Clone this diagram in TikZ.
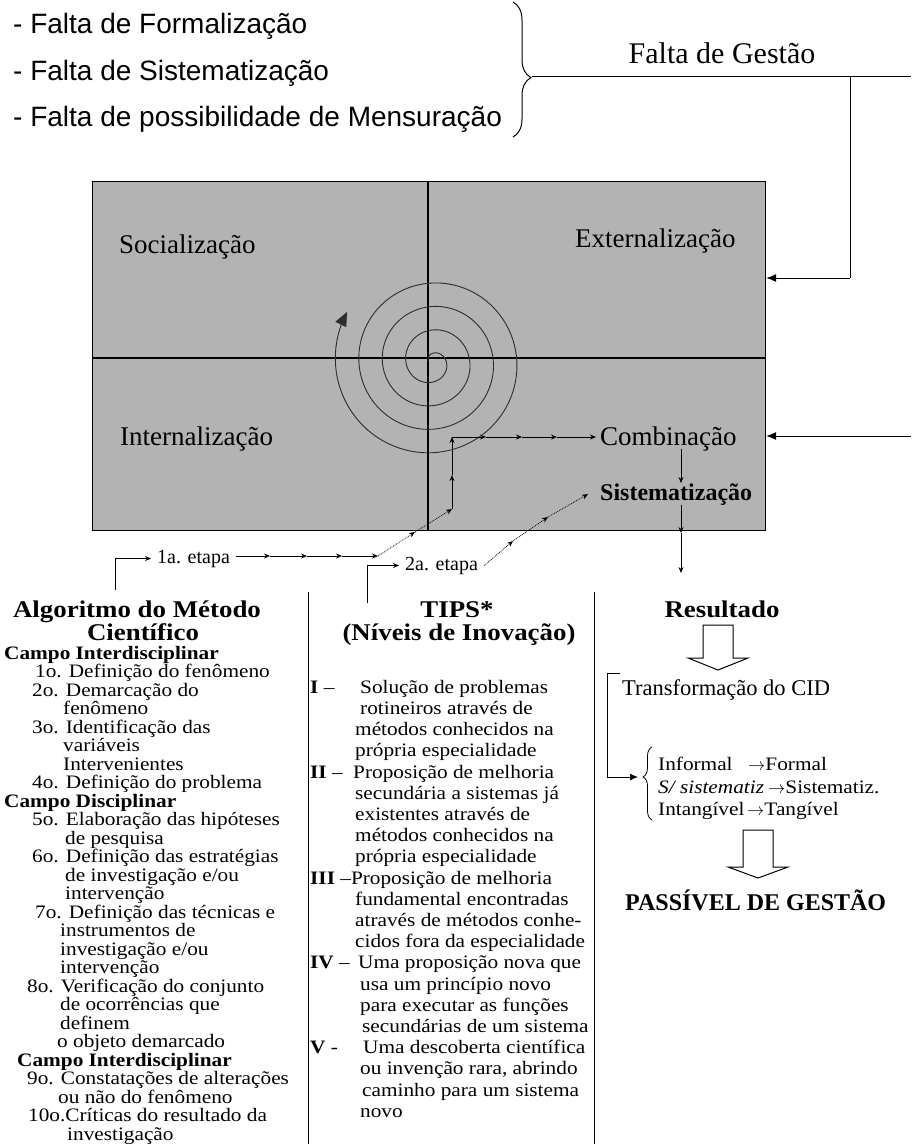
\documentclass[tikz,border=0pt]{standalone}
\usepackage{fontspec}
\setmainfont{Liberation Serif}
\newfontfamily\arialfont{Liberation Sans}
\newfontfamily\listafont[FakeStretch=1.12]{Liberation Serif}
\usetikzlibrary{arrows.meta,decorations.pathreplacing}
\definecolor{cinza}{RGB}{179,179,179}
\definecolor{espiral}{RGB}{45,45,45}
\newcommand{\apertado}{\lineskiplimit=-50pt\lineskip=0pt}

\begin{document}
\begin{tikzpicture}[x=1pt,y=-1pt,
        txt/.style={inner sep=0pt,anchor=base west},
        quad/.style={txt,font=\fontsize{27}{30}\selectfont},
        falta/.style={txt,font=\arialfont\fontsize{28}{30}\selectfont},
        titulo/.style={inner sep=0pt,anchor=base,font=\listafont\bfseries\fontsize{24}{24}\selectfont},
        etapa/.style={txt,inner xsep=6pt,font=\fontsize{20}{22}\selectfont},
        lista/.style={inner sep=0pt,anchor=north west,align=left},
        seta/.style={-{Stealth[length=6pt,width=5pt]},line width=0.8pt},
        setab/.style={-{Latex[length=10pt,width=8pt]},line width=1pt},
        pont/.style={seta,densely dotted},
        oca/.style={draw,line width=1pt,fill=white}]
    \useasboundingbox (0,0) rectangle (911,1144);

    \node[falta] (f1) at (13,33) {- Falta de Formalização};
    \node[falta] (f2) at (13,80) {- Falta de Sistematização};
    \node[falta] (f3) at (13,126) {- Falta de possibilidade de Mensuração};
    \draw[line width=1pt,decorate,decoration={brace,amplitude=18pt,aspect=0.56}]
        (513,2) -- (513,137);
    \coordinate (gponta) at (532,76);
    \coordinate (gdesce) at (850,76);
    \coordinate (gfim) at (911,76);
    \coordinate (gcanto) at (850,278);
    \coordinate (dir2) at (911,436);
    \node[txt,anchor=base,font=\fontsize{30}{32}\selectfont] (gestao) at (722,63) {Falta de Gestão};

    \node[draw,line width=1.2pt,fill=cinza,minimum width=673pt,minimum height=349pt,
          inner sep=0pt,anchor=north west] (caixa) at (92,181) {};
    \coordinate (centro) at (428,358);
    \draw[line width=1.2pt] (caixa.north -| centro) -- (caixa.south -| centro);
    \draw[line width=1.2pt] (caixa.west |- centro) -- (caixa.east |- centro);

    \draw[line width=1pt] (gponta) -- (gfim);
    \draw[line width=1pt] (gdesce) -- (gcanto);
    \draw[setab] (gcanto) -- (caixa.east |- gcanto);
    \draw[setab] (dir2) -- (caixa.east |- dir2);

    \node[quad] (soc) at (119,253) {Socialização};
    \node[quad] (ext) at (575,247) {Externalização};
    \node[quad] (int) at (120,445) {Internalização};
    \node[quad] (comb) at (600,445) {Combinação};
    \node[txt,font=\bfseries\fontsize{24}{26}\selectfont] (sist) at (600,500) {Sistematização};

    \draw[espiral,line width=0.9pt,-{Triangle[length=14pt,width=12pt]}]
        plot[domain=-1.3:24.1,samples=400,variable=\t]
        ({432+(8.5+3.74*\t)*sin(\t r)},{362-(8.5+3.74*\t)*cos(\t r)});

    \coordinate (cs1) at (681,449);
    \coordinate (sd2) at (681,533);
    \coordinate (sd3) at (681,573);
    \draw[seta] (cs1) -- (cs1 |- sist.north);
    \draw[seta] (sist.south -| cs1) -- (sd2);
    \draw[seta] (sd2) -- (sd3);

    \node[etapa] (et1) at (151,563) {1a. etapa};
    \coordinate (c1) at (115,590);
    \coordinate (a1) at (270,556);
    \coordinate (a2) at (307,556);
    \coordinate (a3) at (342,556);
    \coordinate (a4) at (378,556);
    \coordinate (a5) at (415,532);
    \coordinate (a6) at (452,509);
    \coordinate (a7) at (452,475);
    \coordinate (a8) at (452,437);
    \coordinate (a9) at (486,437);
    \coordinate (a10) at (522,437);
    \coordinate (a11) at (557,437);
    \draw[seta] (c1) |- (et1.west);
    \draw[seta] (et1.east |- a1) -- (a1);
    \foreach \i/\j in {a1/a2,a2/a3,a3/a4,a6/a7,a7/a8,a8/a9,a9/a10,a10/a11}
        \draw[seta] (\i) -- (\j);
    \draw[pont] (a4) -- (a5);
    \draw[pont] (a5) -- (a6);
    \draw[seta] (a11) -- ([xshift=-4pt]comb.west |- a11);

    \node[etapa] (et2) at (399,570) {2a. etapa};
    \coordinate (c2) at (367,603);
    \coordinate (b1) at (513,541);
    \coordinate (b2) at (548,517);
    \draw[seta] (c2) |- (et2.west);
    \draw[pont] (et2.east) -- (b1);
    \draw[pont] (b1) -- (b2);
    \draw[pont] (b2) -- ([xshift=-12pt]sist.west);

    \coordinate (s1a) at (308,592);
    \coordinate (s1b) at (308,1144);
    \coordinate (s2a) at (594,592);
    \coordinate (s2b) at (594,1144);
    \draw[line width=1pt] (s1a) -- (s1b);
    \draw[line width=1pt] (s2a) -- (s2b);

    \node[titulo] (alg1) at (137,617) {Algoritmo do Método};
    \node[titulo] (alg2) at (143,640) {Científico};
    \node[titulo] (tips1) at (457,617) {TIPS*};
    \node[titulo] (tips2) at (459,640) {(Níveis de Inovação)};
    \node[titulo] (res) at (722,617) {Resultado};

    \node[lista,font=\listafont\fontsize{19}{18.5}\selectfont\apertado] (metodo) at (4,646) {%
        \textbf{Campo Interdisciplinar}\\
        \hspace*{31pt}1o. Definição do fenômeno\\
        \hspace*{28pt}2o. Demarcação do\\
        \hspace*{59pt}fenômeno\\
        \hspace*{28pt}3o. Identificação das\\
        \hspace*{59pt}variáveis\\
        \hspace*{59pt}Intervenientes\\
        \hspace*{28pt}4o. Definição do problema\\
        \textbf{Campo Disciplinar}\\
        \hspace*{28pt}5o. Elaboração das hipóteses\\
        \hspace*{61pt}de pesquisa\\
        \hspace*{28pt}6o. Definição das estratégias\\
        \hspace*{61pt}de investigação e/ou\\
        \hspace*{61pt}intervenção\\
        \hspace*{31pt}7o. Definição das técnicas e\\
        \hspace*{56pt}instrumentos de\\
        \hspace*{56pt}investigação e/ou\\
        \hspace*{56pt}intervenção\\
        \hspace*{23pt}8o. Verificação do conjunto\\
        \hspace*{56pt}de ocorrências que\\
        \hspace*{56pt}definem\\
        \hspace*{53pt}o objeto demarcado\\
        \hspace*{13pt}\textbf{Campo Interdisciplinar}\\
        \hspace*{23pt}9o. Constatações de alterações\\
        \hspace*{54pt}ou não do fenômeno\\
        \hspace*{24pt}10o.Críticas do resultado da\\
        \hspace*{63pt}investigação};

    \node[lista,font=\listafont\fontsize{19}{21.2}\selectfont\apertado] (niveis) at (310,680) {%
        \makebox[50pt][l]{\textbf{I} –}Solução de problemas\\
        \hspace*{50pt}rotineiros através de\\
        \hspace*{45pt}métodos conhecidos na\\
        \hspace*{45pt}própria especialidade\\
        \makebox[43pt][l]{\textbf{II} –}Proposição de melhoria\\
        \hspace*{45pt}secundária a sistemas já\\
        \hspace*{45pt}existentes através de\\
        \hspace*{45pt}métodos conhecidos na\\
        \hspace*{45pt}própria especialidade\\
        \textbf{III} –Proposição de melhoria\\
        \hspace*{45pt}fundamental encontradas\\
        \hspace*{45pt}através de métodos conhe-\\
        \hspace*{45pt}cidos fora da especialidade\\
        \makebox[48pt][l]{\textbf{IV} –}Uma proposição nova que\\
        \hspace*{50pt}usa um princípio novo\\
        \hspace*{50pt}para executar as funções\\
        \hspace*{52pt}secundárias de um sistema\\
        \makebox[53pt][l]{\textbf{V} -}Uma descoberta científica\\
        \hspace*{50pt}ou invenção rara, abrindo\\
        \hspace*{52pt}caminho para um sistema\\
        \hspace*{50pt}novo};

    \draw[oca] (703,625) -- (703,658) -- (688,658) -- (718,670) -- (748,658)
        -- (733,658) -- (733,625) -- cycle;
    \node[txt,font=\fontsize{22.5}{24}\selectfont] (cid) at (622,695) {Transformação do CID};
    \coordinate (k1) at (620,673);
    \coordinate (k2) at (607,673);
    \coordinate (k3) at (607,777);
    \coordinate (k4) at (638,777);
    \draw[-{Latex[length=8pt,width=7pt]},line width=1pt] (k1) -- (k2) -- (k3) -- (k4);
    \draw[line width=0.8pt,decorate,decoration={brace,amplitude=9pt,aspect=0.59}]
        (652,820) -- (652,747);
    \node[lista,font=\listafont\fontsize{19}{22.5}\selectfont\apertado] (formas) at (658,757) {%
        \makebox[90pt][l]{Informal}$\rightarrow$Formal\\
        \makebox[110pt][l]{\textit{S/ sistematiz}}$\rightarrow$Sistematiz.\\
        \makebox[89pt][l]{Intangível}$\rightarrow$Tangível};
    \draw[oca] (743,830) -- (743,867) -- (728,867) -- (758,878) -- (788,867)
        -- (773,867) -- (773,830) -- cycle;
    \node[txt,font=\bfseries\fontsize{24}{26}\selectfont] (pg) at (625,910) {PASSÍVEL DE GESTÃO};
\end{tikzpicture}
\end{document}
